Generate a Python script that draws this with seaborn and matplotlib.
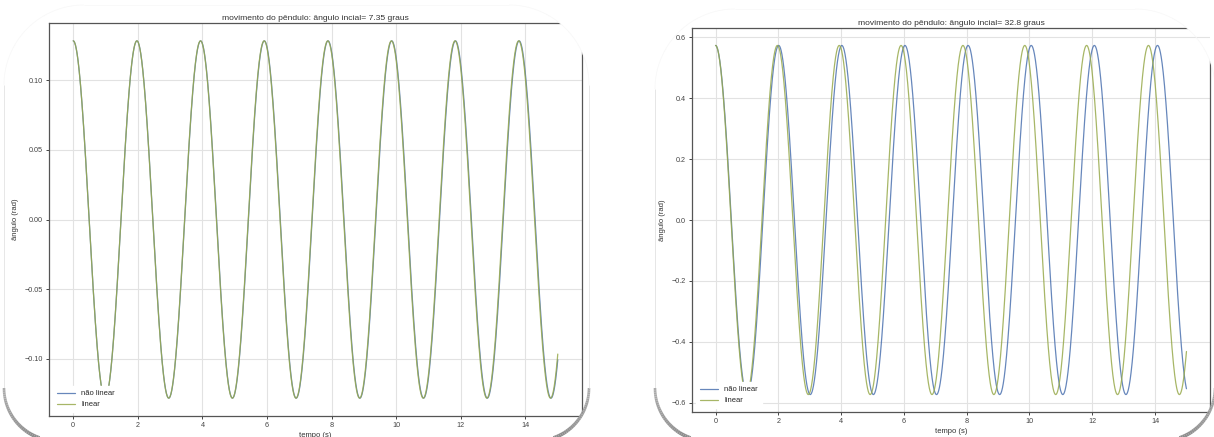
import numpy as np
import pandas as pd
import seaborn as sns
import matplotlib.pyplot as plt
from matplotlib.path import Path
from matplotlib.transforms import Affine2D
from matplotlib.collections import LineCollection

# valores
angulo_inicial_graus = [7.35, 32.8]        # titulos dos dois graficos
periodo_linear = 1.97                      # s, espacamento dos picos da curva linear
tempo_final = 15.0                         # s, fim das curvas
passo = 0.005
modelos = ['não linear', 'linear']
cores = {'não linear': '#4c72b0', 'linear': '#98aa4c'}
ticks_x = [0, 2, 4, 6, 8, 10, 12, 14]

W, H = 1214, 437
omega2 = (2 * np.pi / periodo_linear) ** 2


def simula(theta0, nao_linear):
    # integra o pendulo (RK4) a partir do repouso
    def acel(th):
        return -omega2 * (np.sin(th) if nao_linear else th)
    n = int(round(tempo_final / passo)) + 1
    th, w = theta0, 0.0
    res = [th]
    for i in range(n - 1):
        k1t, k1w = w, acel(th)
        k2t, k2w = w + 0.5 * passo * k1w, acel(th + 0.5 * passo * k1t)
        k3t, k3w = w + 0.5 * passo * k2w, acel(th + 0.5 * passo * k2t)
        k4t, k4w = w + passo * k3w, acel(th + passo * k3t)
        th = th + passo / 6 * (k1t + 2 * k2t + 2 * k3t + k4t)
        w = w + passo / 6 * (k1w + 2 * k2w + 2 * k3w + k4w)
        res.append(th)
    return np.arange(n) * passo, np.array(res)


def tabela(graus):
    partes = []
    for m in modelos:
        t, th = simula(np.radians(graus), m == 'não linear')
        partes.append(pd.DataFrame({'tempo': t, 'angulo': th, 'modelo': m}))
    return pd.concat(partes, ignore_index=True)


def contorno(x0, y0, x1, y1, rt, rb, n=40):
    # retangulo arredondado em pixels (y para cima)
    topo, base = H - y0, H - y1
    pts = []
    for cx, cy, r, a0 in [(x1 - rt, topo - rt, rt, 0), (x0 + rt, topo - rt, rt, 90),
                          (x0 + rb, base + rb, rb, 180), (x1 - rb, base + rb, rb, 270)]:
        a = np.radians(np.linspace(a0, a0 + 90, n))
        pts.append(np.column_stack([cx + r * np.cos(a), cy + r * np.sin(a)]))
    pts = np.vstack(pts + [pts[0][:1]])
    return pts


sns.set_style('whitegrid')
plt.rcParams.update({
    'font.family': ['Liberation Sans', 'DejaVu Sans'],
    'font.size': 5.5,
    'axes.edgecolor': '#555555',
    'axes.linewidth': 0.9,
    'axes.labelcolor': '#333333',
    'grid.color': '#e2e2e2',
    'grid.linewidth': 0.8,
    'xtick.bottom': True,
    'ytick.left': True,
    'xtick.color': '#444444',
    'ytick.color': '#444444',
    'xtick.major.size': 2.5,
    'ytick.major.size': 2.5,
    'xtick.major.width': 0.7,
    'ytick.major.width': 0.7,
})

fig = plt.figure(figsize=(W / 100, H / 100), dpi=100)
ax1 = fig.add_axes([49 / W, 1 - 416 / H, 533 / W, 393 / H])
ax2 = fig.add_axes([692 / W, 1 - 412 / H, 518 / W, 384 / H])

quadros = [contorno(4, 5, 589, 441, 80, 53), contorno(655, 9, 1215, 441, 80, 53)]
trans_px = Affine2D().scale(1 / W, 1 / H) + fig.transFigure

for ax, graus, q in zip([ax1, ax2], angulo_inicial_graus, quadros):
    df = tabela(graus)
    sns.lineplot(data=df, x='tempo', y='angulo', hue='modelo', palette=cores,
                 estimator=None, sort=False, linewidth=0.9, alpha=0.85, ax=ax)
    ax.set_title(f'movimento do pêndulo: ângulo incial= {graus} graus',
                 fontsize=6.1, color='#333333', pad=2.5)
    ax.set_xlabel('tempo (s)', labelpad=2)
    ax.set_ylabel('ângulo (rad)', labelpad=4)
    ax.set_xticks(ticks_x)
    ax.tick_params(pad=2, labelsize=5.2)
    for sp in ax.spines.values():
        sp.set_visible(True)
        sp.set_clip_path(Path(q), trans_px)
    h, l = ax.get_legend_handles_labels()
    ax.legend(h, l, loc='lower left', fontsize=5.5, frameon=True, facecolor='white',
              edgecolor='white', framealpha=1, handlelength=2.4, borderpad=0.5)

    # moldura com sombra mais forte embaixo
    seg = np.stack([q[:-1], q[1:]], axis=1)
    yb = (seg[:, 0, 1] + seg[:, 1, 1]) / 2 / H
    tons = 0.97 - 0.42 * (1 - yb) ** 3
    larg = 0.5 + 2.2 * (1 - yb) ** 4
    lc = LineCollection(seg, colors=[(t, t, t) for t in tons], linewidths=larg,
                        transform=trans_px, zorder=3)
    fig.add_artist(lc)

fig.savefig('out.png', dpi=100)
